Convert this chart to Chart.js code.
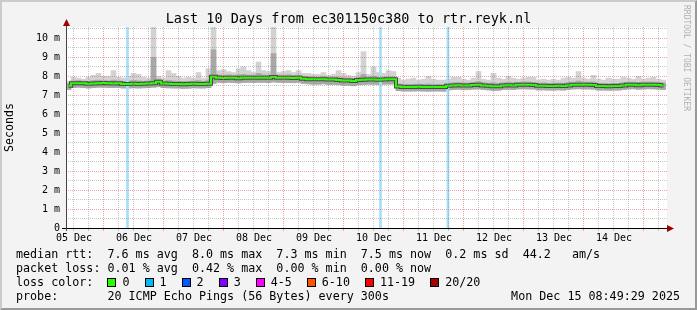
<!DOCTYPE html>
<html>
<head>
<meta charset="utf-8">
<script src="https://cdn.jsdelivr.net/npm/chart.js@4"></script>
<style>
  html, body { margin: 0; padding: 0; background: #f3f3f3; }
  #wrap { position: relative; width: 697px; height: 310px; overflow: hidden;
          font-family: "DejaVu Sans Mono", monospace; color: #000; }
  #wrap canvas { position: absolute; left: 0; top: 0; }
  .frame { position: absolute; left: 0; top: 0; width: 697px; height: 310px; box-sizing: border-box;
           border-left: 2px solid #cbcbcb; border-top: 2px solid #cbcbcb;
           border-right: 2px solid #999; border-bottom: 2px solid #999; pointer-events: none; }
  .title { position: absolute; left: 0; top: 10px; width: 697px; text-align: center;
           font-size: 13.5px; line-height: 16px; white-space: pre; }
  .line { position: absolute; left: 16px; font-size: 11.7px; line-height: 14px; white-space: pre; }
  .stamp { position: absolute; right: 17px; top: 289px; font-size: 11.7px; line-height: 14px; white-space: pre; }
  .lossrow { display: flex; align-items: center; }
  .box { width: 7px; height: 7px; border: 1px solid #000; margin-right: 6px; }
  .lbl { margin-right: 15px; }
  .wm { position: absolute; left: 690px; top: 5px; transform: rotate(90deg); transform-origin: 0 0;
        font-size: 8px; line-height: 8px; color: #b0b0b0; white-space: pre; }
</style>
</head>
<body>
<div id="wrap">
  <canvas id="smoke" width="697" height="310"></canvas>
  <div class="title">Last 10 Days from ec301150c380 to rtr.reyk.nl</div>
  <div class="line" style="top:247px">median rtt:  7.6 ms avg  8.0 ms max  7.3 ms min  7.5 ms now  0.2 ms sd  44.2   am/s</div>
  <div class="line" style="top:261px">packet loss: 0.01 % avg  0.42 % max  0.00 % min  0.00 % now</div>
  <div class="line lossrow" style="top:275px" id="losslegend"><span>loss color:  </span></div>
  <div class="line" style="top:289px">probe:       20 ICMP Echo Pings (56 Bytes) every 300s</div>
  <div class="stamp">Mon Dec 15 08:49:29 2025</div>
  <div class="wm">RRDTOOL / TOBI OETIKER</div>
  <div class="frame"></div>
</div>
<script>
// 10 days, one column per 2 hours, hours counted from Dec 05 08:49
const COL_HOURS = 2;
const RANGE_HOURS = 240;
const FIRST_NOON = 3.18;        // Dec 05 12:00

const dayLabels = ['05 Dec', '06 Dec', '07 Dec', '08 Dec', '09 Dec', '10 Dec', '11 Dec', '12 Dec', '13 Dec', '14 Dec'];
const yTicks = [0, 1, 2, 3, 4, 5, 6, 7, 8, 9, 10];
const yTickLabels = ['0', '1 m', '2 m', '3 m', '4 m', '5 m', '6 m', '7 m', '8 m', '9 m', '10 m'];

// median rtt (ms)
const median = [
  7.50, 7.63, 7.64, 7.63, 7.61, 7.62, 7.64, 7.65, 7.63, 7.62,
  7.63, 7.60, 7.60, 7.61, 7.60, 7.61, 7.62, 7.64, 7.71, 7.62,
  7.61, 7.60, 7.60, 7.58, 7.59, 7.61, 7.60, 7.60, 7.61, 7.97,
  7.93, 7.91, 7.93, 7.92, 7.90, 7.92, 7.93, 7.92, 7.93, 7.93,
  7.92, 7.96, 7.93, 7.92, 7.92, 7.91, 7.93, 7.87, 7.85, 7.84,
  7.84, 7.85, 7.83, 7.83, 7.81, 7.78, 7.78, 7.75, 7.80, 7.82,
  7.83, 7.83, 7.82, 7.83, 7.84, 7.84, 7.46, 7.44, 7.44, 7.44,
  7.45, 7.44, 7.43, 7.44, 7.44, 7.43, 7.50, 7.52, 7.53, 7.51,
  7.52, 7.54, 7.55, 7.52, 7.50, 7.47, 7.48, 7.52, 7.53, 7.52,
  7.55, 7.56, 7.55, 7.54, 7.50, 7.50, 7.49, 7.49, 7.50, 7.49,
  7.52, 7.55, 7.56, 7.55, 7.55, 7.54, 7.49, 7.49, 7.48, 7.49,
  7.49, 7.52, 7.55, 7.56, 7.53, 7.55, 7.56, 7.55, 7.54, 7.52
];

// slowest ping of each column (light smoke top)
const smokeTop = [
  7.75, 7.95, 7.90, 7.85, 7.95, 8.05, 8.15, 8.00, 8.00, 8.30,
  7.95, 7.90, 8.00, 8.15, 8.10, 7.95, 7.90, 10.6, 8.00, 7.90,
  8.30, 8.15, 8.00, 7.90, 7.95, 7.90, 8.20, 7.90, 8.40, 10.6,
  8.30, 8.35, 8.25, 8.20, 8.40, 8.50, 8.30, 8.20, 8.75, 8.30,
  8.25, 10.6, 8.20, 8.25, 8.30, 8.20, 8.30, 8.15, 8.15, 8.10,
  8.10, 8.20, 8.05, 8.10, 8.30, 8.15, 8.05, 8.00, 8.20, 9.30,
  8.10, 8.50, 8.20, 8.15, 8.30, 8.25, 7.90, 7.80, 7.85, 7.90,
  7.80, 7.85, 8.00, 7.85, 7.80, 7.80, 7.85, 7.95, 7.95, 7.85,
  7.80, 7.90, 8.25, 7.85, 7.80, 8.15, 7.90, 7.85, 8.00, 7.90,
  7.85, 7.90, 7.95, 7.95, 7.80, 7.85, 7.80, 7.85, 7.80, 7.90,
  7.95, 7.90, 8.25, 7.90, 7.85, 8.05, 7.85, 7.80, 7.90, 7.85,
  7.85, 7.95, 7.90, 7.85, 8.00, 7.85, 7.90, 7.95, 7.85, 7.80
];

// upper edge of the denser smoke
const smokeMid = [
  7.62, 7.76, 7.78, 7.75, 7.74, 7.78, 7.80, 7.77, 7.76, 7.80,
  7.76, 7.74, 7.75, 7.78, 7.76, 7.74, 7.76, 9.00, 7.85, 7.75,
  7.78, 7.76, 7.74, 7.73, 7.74, 7.75, 7.78, 7.74, 7.80, 9.40,
  8.08, 8.06, 8.08, 8.06, 8.08, 8.10, 8.07, 8.06, 8.15, 8.08,
  8.06, 9.20, 8.07, 8.06, 8.08, 8.05, 8.07, 8.00, 7.98, 7.97,
  7.96, 7.99, 7.96, 7.96, 7.96, 7.92, 7.91, 7.88, 7.94, 8.10,
  7.96, 8.00, 7.95, 7.96, 7.97, 7.97, 7.60, 7.57, 7.58, 7.58,
  7.58, 7.58, 7.60, 7.57, 7.58, 7.57, 7.64, 7.66, 7.67, 7.65,
  7.65, 7.68, 7.72, 7.66, 7.64, 7.65, 7.62, 7.66, 7.68, 7.66,
  7.68, 7.70, 7.70, 7.68, 7.64, 7.65, 7.63, 7.64, 7.64, 7.64,
  7.67, 7.69, 7.75, 7.69, 7.69, 7.70, 7.63, 7.63, 7.62, 7.63,
  7.63, 7.67, 7.69, 7.70, 7.68, 7.69, 7.70, 7.70, 7.68, 7.65
];

// fastest ping of each column (smoke bottom)
const smokeBottom = [
  7.30, 7.40, 7.42, 7.40, 7.38, 7.40, 7.42, 7.42, 7.40, 7.40,
  7.41, 7.38, 7.38, 7.39, 7.38, 7.39, 7.40, 7.42, 7.45, 7.40,
  7.39, 7.38, 7.38, 7.36, 7.37, 7.39, 7.38, 7.38, 7.40, 7.62,
  7.68, 7.66, 7.68, 7.67, 7.65, 7.67, 7.68, 7.67, 7.68, 7.68,
  7.67, 7.70, 7.68, 7.67, 7.67, 7.66, 7.68, 7.62, 7.60, 7.58,
  7.58, 7.60, 7.57, 7.57, 7.56, 7.53, 7.53, 7.50, 7.55, 7.57,
  7.58, 7.58, 7.57, 7.58, 7.59, 7.59, 7.24, 7.22, 7.22, 7.22,
  7.23, 7.22, 7.21, 7.22, 7.22, 7.21, 7.28, 7.30, 7.31, 7.29,
  7.30, 7.32, 7.33, 7.30, 7.28, 7.25, 7.26, 7.30, 7.31, 7.30,
  7.33, 7.34, 7.33, 7.32, 7.28, 7.28, 7.27, 7.27, 7.28, 7.27,
  7.30, 7.33, 7.34, 7.33, 7.33, 7.32, 7.27, 7.27, 7.26, 7.27,
  7.27, 7.30, 7.33, 7.34, 7.31, 7.33, 7.34, 7.33, 7.32, 7.30
];

// packet loss events (hours from start, lost pings)
const lossHours = [24.6, 125.8, 152.8];
const lossCounts = [1, 1, 1];

const lossLegend = ['0', '1', '2', '3', '4-5', '6-10', '11-19', '20/20'];
const lossColors = ['#26ff00', '#00b8ff', '#0059ff', '#7e00ff', '#ff00ff', '#ff5500', '#ff0000', '#a10000'];

const Y_MAX = 10.6;
const MONO = 'DejaVu Sans Mono';

// legend boxes
const lossRow = document.getElementById('losslegend');
lossLegend.forEach((l, i) => {
    const b = document.createElement('span');
    b.className = 'box';
    b.style.background = lossColors[i];
    const t = document.createElement('span');
    t.className = 'lbl';
    t.textContent = l;
    lossRow.appendChild(b);
    lossRow.appendChild(t);
});

const colX = median.map((_, i) => i * COL_HOURS + COL_HOURS / 2);
const lightSmoke = colX.map((x, i) => ({ x, y: [smokeBottom[i], smokeTop[i]] }));
const denseSmoke = colX.map((x, i) => ({ x, y: [smokeBottom[i], smokeMid[i]] }));
const medianPts = colX.map((x, i) => ({ x, y: median[i] }));
const lossBars = lossHours.map((h, i) => ({ x: h, y: [0, lossCounts[i] > 0 ? Y_MAX : 0] }));

const MAJOR = 'rgba(235, 90, 90, 0.55)';
const MINOR = 'rgba(120, 120, 120, 0.42)';

// rrdtool look: white canvas, dotted grid, axes with arrow heads
const rrdFrame = {
    id: 'rrdFrame',
    beforeDraw(chart) {
        const { ctx, chartArea: a } = chart;
        ctx.save();
        ctx.fillStyle = '#fff';
        ctx.fillRect(a.left, a.top, a.right - a.left + 1, a.bottom - a.top);
        ctx.restore();
    },
    afterDatasetsDraw(chart) {
        const { ctx, chartArea: a, scales: { x, y } } = chart;
        ctx.save();
        ctx.lineWidth = 1;
        ctx.setLineDash([1, 1]);
        for (let k = 1; k <= 21; k++) {
            const py = Math.floor(y.getPixelForValue(k / 2)) + 0.5;
            ctx.strokeStyle = k % 2 === 0 ? MAJOR : MINOR;
            ctx.beginPath(); ctx.moveTo(a.left, py); ctx.lineTo(a.right + 1, py); ctx.stroke();
        }
        for (let k = 0; ; k++) {
            const h = FIRST_NOON + 6 * k;
            if (h > RANGE_HOURS) break;
            const px = Math.floor(x.getPixelForValue(h)) + 0.5;
            const major = (k % 4) === 2;
            ctx.strokeStyle = major ? MAJOR : MINOR;
            ctx.beginPath(); ctx.moveTo(px, a.top); ctx.lineTo(px, a.bottom); ctx.stroke();
            ctx.setLineDash([]);
            ctx.beginPath(); ctx.moveTo(px, a.bottom + 1); ctx.lineTo(px, a.bottom + 3); ctx.stroke();
            ctx.setLineDash([1, 1]);
        }
        ctx.setLineDash([]);
        const y0 = Math.floor(a.bottom) + 0.5;
        const x0 = Math.floor(a.left) + 0.5;
        ctx.strokeStyle = '#000';
        ctx.beginPath(); ctx.moveTo(a.left - 4, y0); ctx.lineTo(a.right + 2, y0); ctx.stroke();
        ctx.strokeStyle = '#444';
        ctx.beginPath(); ctx.moveTo(x0, a.bottom + 3); ctx.lineTo(x0, a.top - 3); ctx.stroke();
        ctx.fillStyle = '#a00000';
        ctx.beginPath();
        ctx.moveTo(x0, a.top - 8); ctx.lineTo(x0 - 3.5, a.top - 1); ctx.lineTo(x0 + 3.5, a.top - 1);
        ctx.closePath(); ctx.fill();
        ctx.beginPath();
        ctx.moveTo(a.right + 8, y0); ctx.lineTo(a.right + 1, y0 - 3.5); ctx.lineTo(a.right + 1, y0 + 3.5);
        ctx.closePath(); ctx.fill();
        ctx.restore();
    }
};

new Chart(document.getElementById('smoke'), {
    type: 'bar',
    data: {
        datasets: [
            { type: 'line', data: medianPts, borderColor: '#26ff00', borderWidth: 2, stepped: 'middle',
              pointRadius: 0, fill: false, order: 0 },
            { type: 'line', data: medianPts, borderColor: '#4a4a4a', borderWidth: 4, stepped: 'middle',
              pointRadius: 0, fill: false, order: 1 },
            { data: lossBars, backgroundColor: '#a7dff6', barThickness: 2, grouped: false, order: 2 },
            { data: denseSmoke, backgroundColor: '#a8a8a8', barThickness: 5, grouped: false, order: 3 },
            { data: lightSmoke, backgroundColor: '#d2d2d2', barThickness: 5, grouped: false, order: 4 }
        ]
    },
    options: {
        responsive: false,
        animation: false,
        devicePixelRatio: 1,
        layout: { padding: { left: 0, top: 27, right: 31, bottom: 60 } },
        plugins: { legend: { display: false }, tooltip: { enabled: false } },
        scales: {
            x: {
                type: 'linear', min: 0, max: RANGE_HOURS, offset: false,
                grid: { display: false, drawTicks: false },
                border: { display: false },
                ticks: {
                    font: { family: MONO, size: 10 }, color: '#000', padding: 4,
                    autoSkip: false, maxRotation: 0,
                    callback: (v, i) => dayLabels[i]
                },
                afterBuildTicks: s => { s.ticks = dayLabels.map((_, i) => ({ value: FIRST_NOON + 24 * i })); },
                afterFit: s => { s.height = 22; }
            },
            y: {
                min: 0, max: Y_MAX,
                grid: { display: false, drawTicks: false },
                border: { display: false },
                ticks: {
                    font: { family: MONO, size: 10 }, color: '#000', padding: 6,
                    callback: (v, i) => yTickLabels[i]
                },
                title: { display: true, text: 'Seconds', color: '#000',
                         font: { family: MONO, size: 11.6 }, padding: { top: 3, bottom: 0 } },
                afterBuildTicks: s => { s.ticks = yTicks.map(v => ({ value: v })); },
                afterFit: s => { s.width = 66; }
            }
        }
    },
    plugins: [rrdFrame]
});
</script>
</body>
</html>
